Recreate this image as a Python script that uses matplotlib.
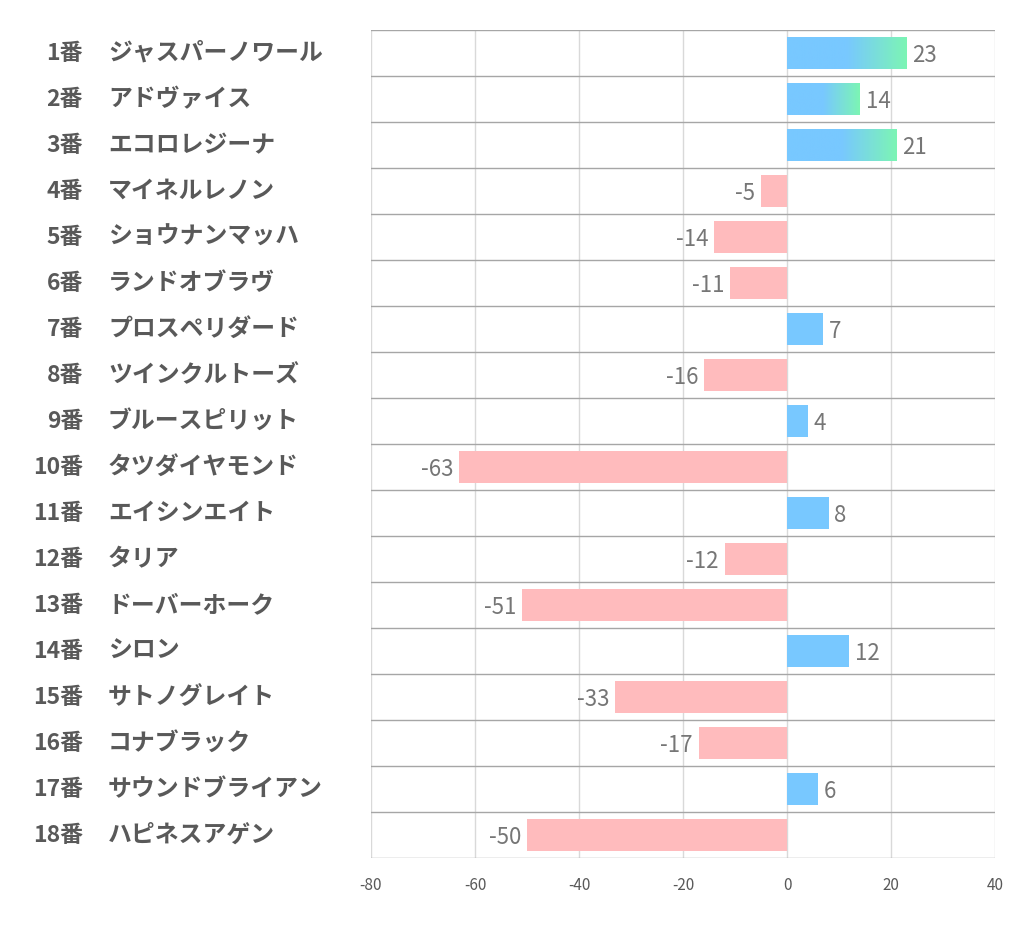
import numpy as np
import matplotlib.pyplot as plt
from matplotlib.colors import LinearSegmentedColormap
from matplotlib.transforms import blended_transform_factory

plt.rcParams['font.family'] = ['Noto Sans CJK JP', 'DejaVu Sans']
plt.rcParams['axes.unicode_minus'] = False

numbers = ["1番", "2番", "3番", "4番", "5番", "6番", "7番", "8番", "9番",
           "10番", "11番", "12番", "13番", "14番", "15番", "16番", "17番", "18番"]
names = ["ジャスパーノワール", "アドヴァイス", "エコロレジーナ", "マイネルレノン",
         "ショウナンマッハ", "ランドオブラヴ", "プロスペリダード", "ツインクルトーズ",
         "ブルースピリット", "タツダイヤモンド", "エイシンエイト", "タリア",
         "ドーバーホーク", "シロン", "サトノグレイト", "コナブラック",
         "サウンドブライアン", "ハピネスアゲン"]
values = [23, 14, 21, -5, -14, -11, 7, -16, 4, -63, 8, -12, -51, 12, -33, -17, 6, -50]

BLUE = "#78C8FF"
GREEN = "#7CF5B4"
PINK = "#FFBBBD"
bar_h = 0.68

fig = plt.figure(figsize=(10.22, 9.39), dpi=100)
ax = fig.add_axes([371/1022, 1 - 858/939, (995-371)/1022, (858-30)/939])

grad = LinearSegmentedColormap.from_list("g", [(0, BLUE), (0.5, BLUE), (1, GREEN)])
ramp = np.linspace(0, 1, 256).reshape(1, -1)

for i, v in enumerate(values):
    if v >= 14:
        ax.imshow(ramp, cmap=grad, aspect='auto', extent=[0, v, i + bar_h/2, i - bar_h/2], zorder=2)
    elif v > 0:
        ax.barh(i, v, height=bar_h, color=BLUE, zorder=2)
    else:
        ax.barh(i, v, height=bar_h, color=PINK, zorder=2)
    if v > 0:
        ax.text(v + 1.1, i + 0.05, str(v), ha='left', va='center', fontsize=16, color='#767676')
    else:
        ax.text(v - 1.1, i + 0.05, str(v), ha='right', va='center', fontsize=16, color='#767676')

# row separators
for k in range(len(values) + 1):
    ax.axhline(k - 0.5, color='#A6A6A6', lw=1, zorder=1)
for xt in range(-80, 41, 20):
    ax.axvline(xt, color='#D9D9D9', lw=1, zorder=0)

ax.set_xlim(-80, 40)
ax.set_ylim(len(values) - 0.5, -0.5)
ax.set_xticks(range(-80, 41, 20))
ax.set_yticks([])
ax.tick_params(axis='x', length=0, pad=14, labelsize=11, labelcolor='#595959')
for s in ax.spines.values():
    s.set_visible(False)

trans = blended_transform_factory(fig.transFigure, ax.transData)
for i, (n, name) in enumerate(zip(numbers, names)):
    ax.text(83/1022, i, n, transform=trans, ha='right', va='center',
            fontsize=16.5, fontweight='bold', color='#595959')
    ax.text(108/1022, i, name, transform=trans, ha='left', va='center',
            fontsize=17.2, fontweight='bold', color='#595959')

fig.savefig("out.png", dpi=100)
